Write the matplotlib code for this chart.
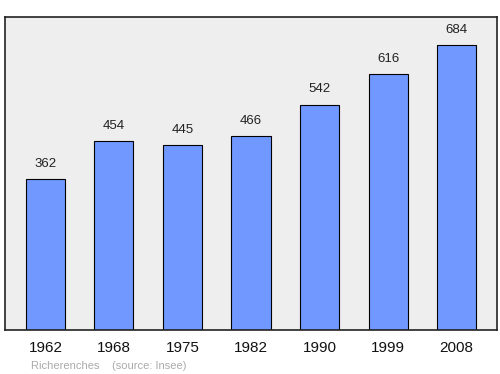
import matplotlib.pyplot as plt

years = ['1962', '1968', '1975', '1982', '1990', '1999', '2008']
population = [362, 454, 445, 466, 542, 616, 684]

fig = plt.figure(figsize=(5, 3.74), dpi=100)
ax = fig.add_axes([0.01, 0.1176, 0.984, 0.837])
ax.set_facecolor('#eeeeee')

x = range(len(years))
ax.bar(x, population, width=0.57, color='#7098ff', edgecolor='black', linewidth=0.8, zorder=2)
for i, v in zip(x, population):
    ax.text(i, v + 22, str(v), ha='center', va='bottom', fontsize=9.5,
            family='Liberation Sans', color='#222222')

ax.set_xlim(-0.59, len(years) - 0.41)
ax.set_ylim(0, max(population) * 1.1)
ax.set_xticks(list(x))
ax.set_xticklabels(years, fontsize=11, family='Liberation Sans', color='#111111')
ax.tick_params(axis='x', length=0, pad=8)
ax.set_yticks([])
for s in ax.spines.values():
    s.set_linewidth(1.2)
    s.set_color('#222222')

fig.text(0.062, 0.014, 'Richerenches    (source: Insee)', fontsize=8, color='#aaaaaa', family='Liberation Sans')

fig.savefig('out.png', dpi=100)
